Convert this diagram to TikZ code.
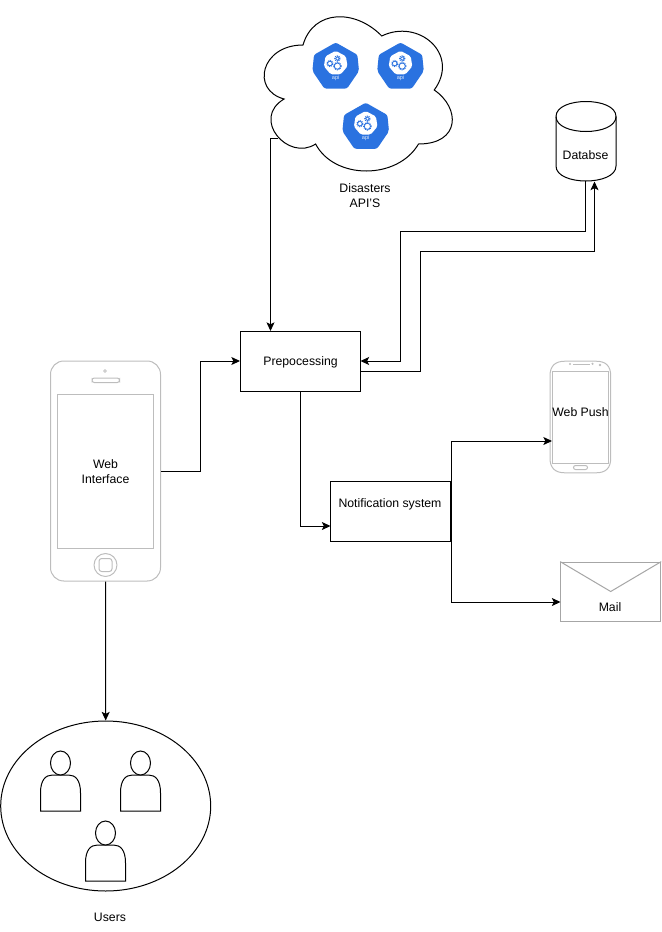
\documentclass[tikz,border=0pt]{standalone}
\usepackage{fontspec}
\setmainfont{Liberation Sans}
\usetikzlibrary{arrows.meta,calc,shapes.geometric}
\definecolor{k8s}{HTML}{2A72E0}
\definecolor{phoneg}{HTML}{BDBDBD}
\definecolor{mailg}{HTML}{A6A6A6}
\tikzset{
  outline/.style={draw=black,line width=.75pt},
  conn/.style={draw=black,line width=.75pt,-{Stealth[length=6.5pt,width=6pt,inset=1.5pt]}},
  boxnode/.style={draw=black,line width=.75pt,fill=white,minimum width=90pt,minimum height=45pt,inner sep=0pt},
  ghost/.style={inner sep=0pt,outer sep=0pt},
  txt/.style={font=\fontsize{9.2pt}{11.25pt}\selectfont,align=center,inner sep=0pt},
  device/.style={draw=phoneg,line width=.75pt},
  personline/.style={draw=black,line width=.75pt,fill=white},
  gearline/.style={draw=k8s,line width=.55pt},
  gearteeth/.style={draw=k8s,line width=.8pt,dash pattern=on .7pt off .7pt},
  pics/apiicon/.style={code={
    \fill[k8s,rounded corners=1.6pt] (0,-22.8)--(21.7,-10.5)--(23.3,5.7)--(11.3,23.3)--(-11.3,23.3)--(-23.3,5.7)--(-21.7,-10.5)--cycle;
    \fill[white,rounded corners=1.2pt] (0,-14.5)--(10.2,-9)--(11.8,1)--(5,9)--(-5,9)--(-11.8,1)--(-10.2,-9)--cycle;
    \foreach \gx/\gy/\gr in {-5.8/-1.8/1.7pt,1.7/-6.8/1.4pt,1.7/.8/2.3pt}{
      \draw[gearline] (\gx,\gy) circle [radius=\gr];
      \draw[gearteeth] (\gx,\gy) circle [radius=\gr+.55pt];
    }
    \node[inner sep=0pt,text=white!85!k8s,font=\fontsize{4.2pt}{5pt}\selectfont] (-apilabel) at (0,12.5) {api};
  }},
  pics/actor/.style={code={
    \draw[personline] (-20,30) -- (-20,12) .. controls (-20,-1) and (-15,-6) .. (-8,-6) -- (8,-6) .. controls (15,-6) and (20,-1) .. (20,12) -- (20,30) -- cycle;
    \draw[personline] (0,-18) circle [x radius=7.5pt,y radius=9pt];
  }},
}
\begin{document}
\begin{tikzpicture}[x=.75pt,y=-.75pt]
\useasboundingbox (0,0) rectangle (661,932);

% Cloud with the API icons
\draw[outline,fill=white] (303,45)
  .. controls (261,45) and (250.5,90) .. (284.1,99)
  .. controls (250.5,118.8) and (288.3,162) .. (315.6,144)
  .. controls (334.5,180) and (397.5,180) .. (418.5,144)
  .. controls (460.5,144) and (460.5,108) .. (434.25,90)
  .. controls (460.5,54) and (418.5,18) .. (381.75,36)
  .. controls (355.5,9) and (313.5,9) .. (303,45) -- cycle;
\node[ghost] (cloud) at (355.5,90) {};
\pic (apione) at (335.7,65.3) {apiicon};
\pic (apitwo) at (400.5,65.3) {apiicon};
\pic (apithree) at (365.7,125.5) {apiicon};
\node[txt] (cloudtext) at (365,195.5) {Disasters\\API'S};

% Database
\draw[outline,fill=white] (556,116.5) .. controls (556,96.5) and (616,96.5) .. (616,116.5) -- (616,166)
  .. controls (616,186) and (556,186) .. (556,166) -- cycle;
\draw[outline] (556,116.5) .. controls (556,136.5) and (616,136.5) .. (616,116.5);
\node[ghost,minimum width=45pt,minimum height=60pt] (db) at (586,141) {};
\node[txt] (dbtext) at (585.5,155) {Databse};

% Boxes
\node[boxnode] (prep) at (300.5,361) {};
\node[txt] (preptext) at (300.5,362) {Prepocessing};
\node[boxnode] (notif) at (390.5,511) {};
\node[txt] (notiftext) at (390,504.5) {Notification system};

% Web phone
\node[device,rounded corners=10pt,minimum width=82.5pt,minimum height=165pt,inner sep=0pt] (phone) at (105.5,471) {};
\draw[device] (57.5,394) rectangle (153.5,548.5);
\draw[device,rounded corners=1.7pt] (92,378) rectangle (119.5,382.5);
\draw[device,line width=.5pt] (105,371) circle [radius=1pt];
\draw[device] (105.5,565) circle [radius=8.6pt];
\draw[device,rounded corners=2pt] (99,558.5) rectangle (112,571.5);
\node[txt] (webtext) at (105.5,471.5) {Web\\Interface};

% Samsung phone
\node[ghost,minimum width=45.5pt,minimum height=83pt] (push) at (580.5,417) {};
\draw[device] (550,376) .. controls (550,366) and (555,361.2) .. (565,361.2) -- (596,361.2)
  .. controls (606,361.2) and (610.7,366) .. (610.7,376) -- (610.7,458)
  .. controls (610.7,468) and (606,472.8) .. (596,472.8) -- (565,472.8)
  .. controls (555,472.8) and (550,468) .. (550,458) -- cycle;
\draw[device] (552.3,371) rectangle (608.7,463);
\draw[device,rounded corners=1.5pt] (573.5,465.5) rectangle (587.5,469.5);
\draw[device,line width=1.2pt] (573,364.4) -- (590,364.4);
\fill[phoneg] (570,364) circle [radius=.9pt] (592.5,363.8) circle [radius=.9pt] (600,365) circle [radius=1.1pt];
\node[txt] (pushtext) at (580.5,412) {Web Push};

% Mail
\node[draw=mailg,line width=.75pt,fill=white,inner sep=0pt,minimum width=75pt,minimum height=44.5pt] (mail) at (610.7,591.8) {};
\draw[draw=mailg,line width=.75pt] (mail.north west) -- (610.7,591.5) -- (mail.north east);
\node[txt] (mailtext) at (610,607) {Mail};

% Users
\node[draw=black,line width=.75pt,ellipse,inner sep=0pt,minimum width=157.5pt,minimum height=127.5pt] (users) at (105.7,806) {};
\pic (actorone) at (60.5,781) {actor};
\pic (actortwo) at (140.5,781) {actor};
\pic (actorthree) at (105.5,851) {actor};
\node[txt] (userstext) at (110,917) {Users};

% Connector ends away from the anchors
\coordinate (cloudout) at (278,138.5);
\coordinate (prepin) at (270.5,331);
\coordinate (prepback) at (360.5,361);
\coordinate (prepout) at (360.5,371);
\coordinate (notifin) at (330.5,526);
\coordinate (pushin) at (552,441);
\coordinate (mailin) at (560.5,602);
\coordinate (dbout) at (585.7,181);
\coordinate (dbin) at (594.5,181.5);

% Connectors
\draw[conn] (cloudout) -| (prepin);
\draw[conn] (phone.east) -| (200.5,361) -- (prep.west);
\draw[conn] (prep.south) |- (notifin);
\draw[conn] (notif.east) |- (pushin);
\draw[conn] (notif.east) |- (mailin);
\draw[conn] (dbout) |- (400.5,231.3) |- (prepback);
\draw[conn] (prepout) -| (420.5,251.3) -| (dbin);
\draw[conn] (phone.south) -- (users.north);
\end{tikzpicture}
\end{document}
